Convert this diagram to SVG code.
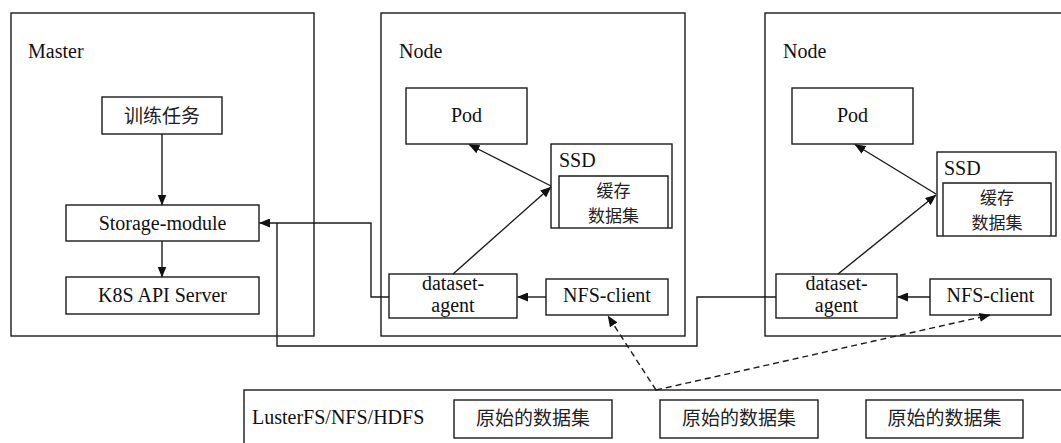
<svg xmlns="http://www.w3.org/2000/svg" width="1061" height="443" viewBox="0 0 1061 443">
  <style>
    .box { fill: #fff; stroke: #1a1a1a; stroke-width: 1.4; }
    .frame { fill: none; stroke: #1a1a1a; stroke-width: 1.4; }
    .t { font-family: "Liberation Serif", "Times New Roman", serif; font-size: 20px; fill: #111; }
    .c { font-family: "Noto Sans CJK SC", "Noto Sans", sans-serif; font-size: 19px; fill: #222; }
    .cs { font-family: "Noto Sans CJK SC", "Noto Sans", sans-serif; font-size: 17px; fill: #222; }
    .mid { text-anchor: middle; }
    .line { fill: none; stroke: #1a1a1a; stroke-width: 1.4; }
    .dash { fill: none; stroke: #1a1a1a; stroke-width: 1.4; stroke-dasharray: 6 4; }
  </style>
  <defs>
    <marker id="arr" markerWidth="11" markerHeight="9" refX="10.5" refY="4.5" orient="auto" markerUnits="userSpaceOnUse">
      <path d="M0,0 L11,4.5 L0,9 z" fill="#111"/>
    </marker>
  </defs>
  <rect width="1061" height="443" fill="#fff"/>

  <!-- Master -->
  <g id="master">
    <rect class="frame" x="11" y="13" width="303" height="323"/>
    <text class="t" x="28" y="58">Master</text>
  </g>
  <g id="task">
    <rect class="box" x="102" y="97" width="120" height="37"/>
    <text class="c mid" x="162" y="123">训练任务</text>
  </g>
  <g id="storage-module">
    <rect class="box" x="66" y="205" width="193" height="36"/>
    <text class="t mid" x="162.5" y="230">Storage-module</text>
  </g>
  <g id="k8s-api">
    <rect class="box" x="66" y="277" width="193" height="37"/>
    <text class="t mid" x="162.5" y="302">K8S API Server</text>
  </g>

  <!-- Node 1 -->
  <g id="node1">
    <rect class="frame" x="381" y="13" width="304" height="323"/>
    <text class="t" x="399" y="58">Node</text>
  </g>
  <g id="pod1">
    <rect class="box" x="406" y="88" width="121" height="56"/>
    <text class="t mid" x="466.5" y="122">Pod</text>
  </g>
  <g id="ssd1">
    <rect class="box" x="551" y="144" width="121" height="84"/>
    <text class="t" x="559" y="167">SSD</text>
    <path class="line" d="M559,228 V176 H668 V228"/>
    <text class="cs mid" x="613.5" y="197">缓存</text>
    <text class="cs mid" x="613.5" y="222">数据集</text>
  </g>
  <g id="agent1">
    <rect class="box" x="389" y="274" width="128" height="44"/>
    <text class="t mid" x="453" y="290">dataset-</text>
    <text class="t mid" x="453" y="312">agent</text>
  </g>
  <g id="nfs1">
    <rect class="box" x="546" y="279" width="122" height="36"/>
    <text class="t mid" x="607" y="302">NFS-client</text>
  </g>

  <!-- Node 2 -->
  <g id="node2">
    <rect class="frame" x="765" y="13" width="310" height="323"/>
    <text class="t" x="783" y="58">Node</text>
  </g>
  <g id="pod2">
    <rect class="box" x="792" y="88" width="121" height="56"/>
    <text class="t mid" x="852.5" y="122">Pod</text>
  </g>
  <g id="ssd2">
    <rect class="box" x="937" y="152" width="119" height="84"/>
    <text class="t" x="944" y="175">SSD</text>
    <path class="line" d="M943,236 V183 H1051 V236"/>
    <text class="cs mid" x="997" y="204">缓存</text>
    <text class="cs mid" x="997" y="229">数据集</text>
  </g>
  <g id="agent2">
    <rect class="box" x="776" y="274" width="121" height="44"/>
    <text class="t mid" x="836.5" y="290">dataset-</text>
    <text class="t mid" x="836.5" y="312">agent</text>
  </g>
  <g id="nfs2">
    <rect class="box" x="930" y="279" width="121" height="36"/>
    <text class="t mid" x="990.5" y="302">NFS-client</text>
  </g>

  <!-- Shared storage -->
  <g id="shared-fs">
    <rect class="frame" x="244" y="390" width="830" height="60"/>
    <text class="t" x="252" y="424">LusterFS/NFS/HDFS</text>
  </g>
  <g id="raw1">
    <rect class="box" x="454" y="400" width="158" height="38"/>
    <text class="c mid" x="533" y="425">原始的数据集</text>
  </g>
  <g id="raw2">
    <rect class="box" x="660" y="400" width="158" height="38"/>
    <text class="c mid" x="739" y="425">原始的数据集</text>
  </g>
  <g id="raw3">
    <rect class="box" x="866" y="400" width="157" height="38"/>
    <text class="c mid" x="944.5" y="425">原始的数据集</text>
  </g>

  <!-- Connectors -->
  <g id="connectors">
    <path class="line" d="M162,134 V205" marker-end="url(#arr)"/>
    <path class="line" d="M162,241 V277" marker-end="url(#arr)"/>
    <path class="line" d="M389,297 H371 V223 H259.5" marker-end="url(#arr)"/>
    <path class="line" d="M776,297 H697 V346 H277 V223"/>
    <path class="line" d="M546,297 H517.5" marker-end="url(#arr)"/>
    <path class="line" d="M930,297 H897.5" marker-end="url(#arr)"/>
    <path class="line" d="M453,274 L551,187" marker-end="url(#arr)"/>
    <path class="line" d="M551,186 L469,144.5" marker-end="url(#arr)"/>
    <path class="line" d="M838,274 L936,195" marker-end="url(#arr)"/>
    <path class="line" d="M936,194 L855,144.5" marker-end="url(#arr)"/>
    <path class="dash" d="M656,390 L608,316" marker-end="url(#arr)"/>
    <path class="dash" d="M656,390 L990,315" marker-end="url(#arr)"/>
  </g>
</svg>
